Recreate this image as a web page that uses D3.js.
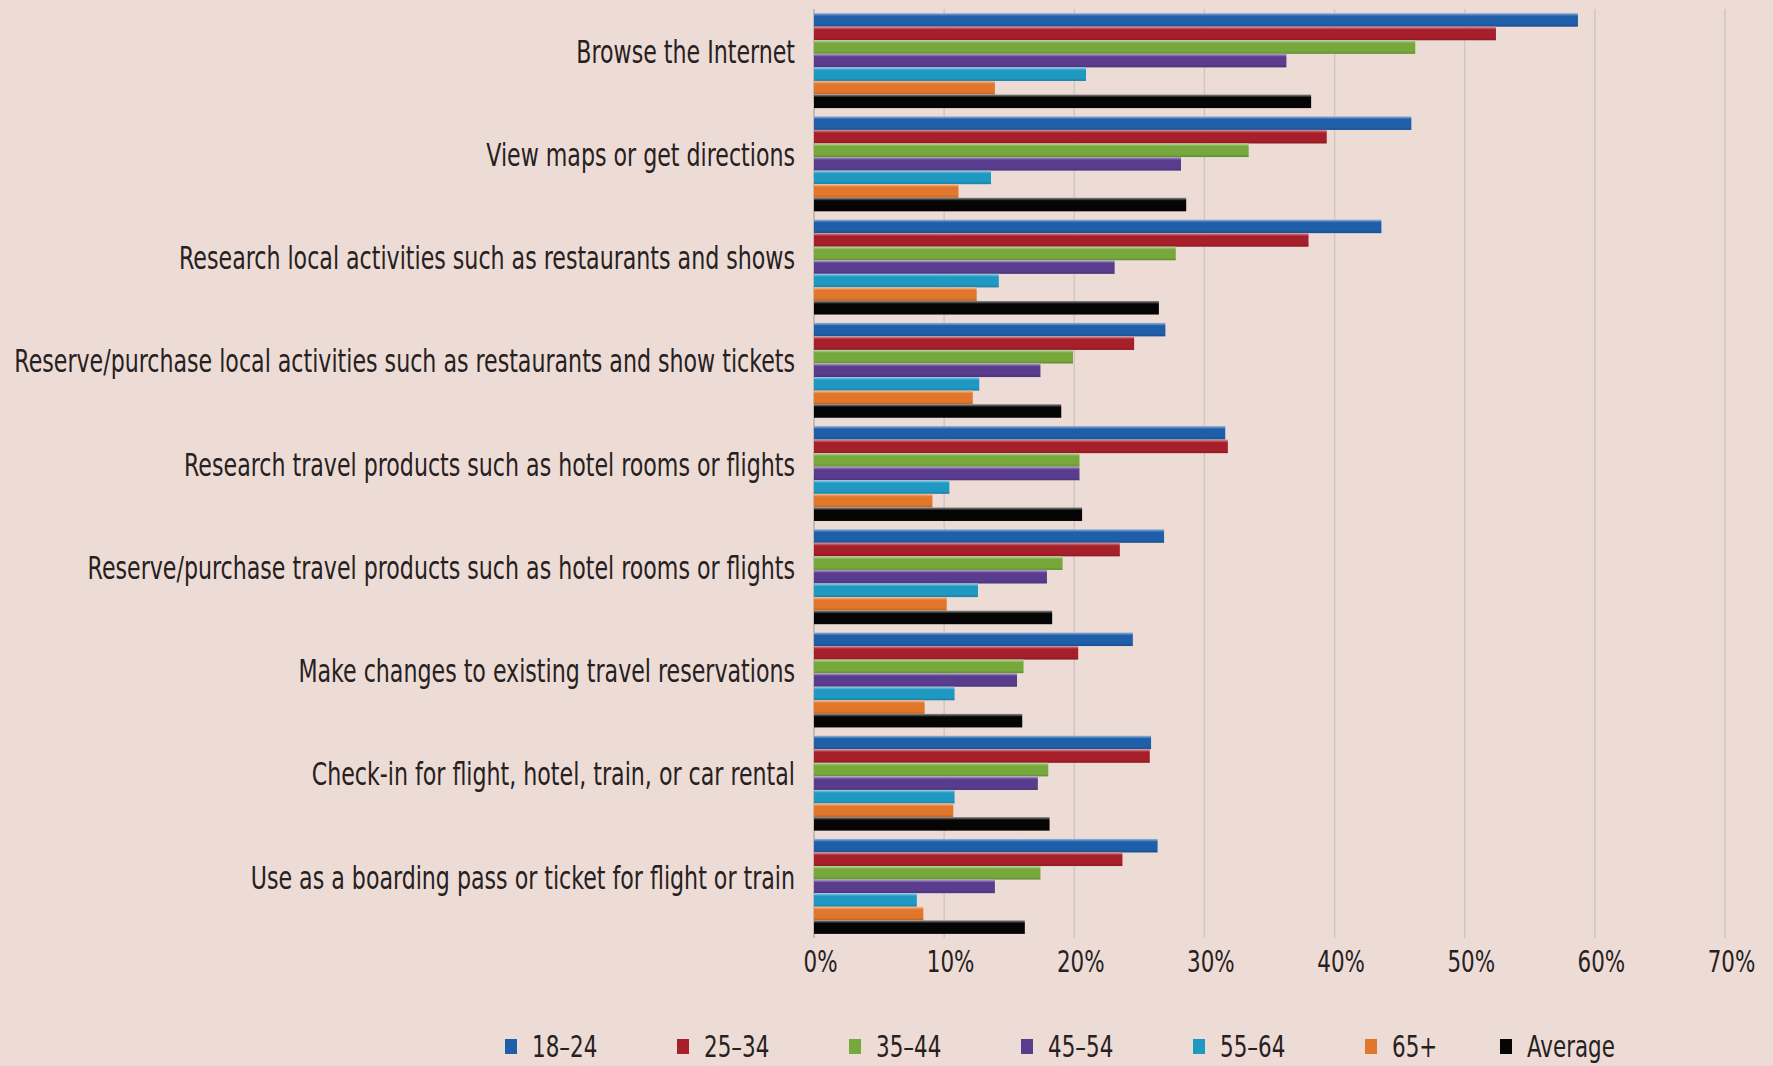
<!DOCTYPE html>
<html>
<head>
<meta charset="utf-8">
<script src="https://cdn.jsdelivr.net/npm/d3@7"></script>
<style>
  html, body { margin: 0; padding: 0; background: #eddcd5; }
  svg text { font-family: "DejaVu Sans Condensed", "DejaVu Sans", sans-serif; font-stretch: condensed; fill: #26211f; }
</style>
</head>
<body>
<svg id="canvas"></svg>
<script>
let categories = [
  "Browse the Internet",
  "View maps or get directions",
  "Research local activities such as restaurants and shows",
  "Reserve/purchase local activities such as restaurants and show tickets",
  "Research travel products such as hotel rooms or flights",
  "Reserve/purchase travel products such as hotel rooms or flights",
  "Make changes to existing travel reservations",
  "Check-in for flight, hotel, train, or car rental",
  "Use as a boarding pass or ticket for flight or train"
]

let seriesNames = ["18–24", "25–34", "35–44", "45–54", "55–64", "65+", "Average"]
let seriesColors = ["#1f5ea9", "#a61f2a", "#76a83b", "#5a3c8e", "#1f98c2", "#e2762a", "#050505"]

// percent values per category, one array per age group
let age18to24 = [58.7, 45.9, 43.6, 27.0, 31.6, 26.9, 24.5, 25.9, 26.4]
let age25to34 = [52.4, 39.4, 38.0, 24.6, 31.8, 23.5, 20.3, 25.8, 23.7]
let age35to44 = [46.2, 33.4, 27.8, 19.9, 20.4, 19.1, 16.1, 18.0, 17.4]
let age45to54 = [36.3, 28.2, 23.1, 17.4, 20.4, 17.9, 15.6, 17.2, 13.9]
let age55to64 = [20.9, 13.6, 14.2, 12.7, 10.4, 12.6, 10.8, 10.8, 7.9]
let age65plus = [13.9, 11.1, 12.5, 12.2, 9.1, 10.2, 8.5, 10.7, 8.4]
let average = [38.2, 28.6, 26.5, 19.0, 20.6, 18.3, 16.0, 18.1, 16.2]

let xTicks = [0, 10, 20, 30, 40, 50, 60, 70]

let seriesValues = [age18to24, age25to34, age35to44, age45to54, age55to64, age65plus, average]

let width = 1773
let height = 1066
let plotLeft = 814
let plotRight = 1725
let plotTop = 9
let plotBottom = 938
let labelRight = 795
let labelLeft = 14

let svg = d3.select("#canvas")
    .attr("width", width)
    .attr("height", height)

svg.append("rect")
    .attr("width", width)
    .attr("height", height)
    .attr("fill", "#eddcd5")

let xScale = d3.scaleLinear()
    .domain([0, 70])
    .range([plotLeft, plotRight])

let yScale = d3.scaleBand()
    .domain(categories)
    .range([plotTop, plotBottom])
    .paddingInner(0.08)
    .paddingOuter(0.04)

let innerScale = d3.scaleBand()
    .domain(seriesNames)
    .range([0, yScale.bandwidth()])

// shaded fills, a light edge on top like the original
let defs = svg.append("defs")
seriesNames.forEach((name, i) => {
    let c = d3.color(seriesColors[i])
    let grad = defs.append("linearGradient")
        .attr("id", "g" + i)
        .attr("x1", 0).attr("y1", 0).attr("x2", 0).attr("y2", 1)
    grad.append("stop").attr("offset", "0%").attr("stop-color", d3.interpolateRgb(c, "#ffffff")(0.55))
    grad.append("stop").attr("offset", "22%").attr("stop-color", c.formatHex())
    grad.append("stop").attr("offset", "80%").attr("stop-color", c.formatHex())
    grad.append("stop").attr("offset", "100%").attr("stop-color", c.darker(0.5).formatHex())
})

// gridlines
svg.append("g")
    .selectAll("line")
    .data(xTicks)
    .enter()
    .append("line")
    .attr("x1", (d) => xScale(d))
    .attr("x2", (d) => xScale(d))
    .attr("y1", plotTop)
    .attr("y2", plotBottom)
    .attr("stroke", (d) => d == 0 ? "#b9aca7" : "#d3c5bf")
    .attr("stroke-width", 1.5)

// bars
let groups = svg.append("g")
    .selectAll("g")
    .data(categories)
    .enter()
    .append("g")
    .attr("transform", (d) => "translate(0," + yScale(d) + ")")

groups.selectAll("rect")
    .data((d, ci) => seriesNames.map((s, si) => ({series: s, idx: si, value: seriesValues[si][ci]})))
    .enter()
    .append("rect")
    .attr("x", xScale(0))
    .attr("y", (d) => innerScale(d.series))
    .attr("width", (d) => xScale(d.value) - xScale(0))
    .attr("height", innerScale.bandwidth())
    .attr("fill", (d) => "url(#g" + d.idx + ")")

// category labels, squeezed so the longest one fits like the condensed original
let labels = svg.append("g")
    .selectAll("text")
    .data(categories)
    .enter()
    .append("text")
    .attr("x", 0)
    .attr("y", 0)
    .attr("dy", "0.35em")
    .attr("text-anchor", "end")
    .attr("font-size", 32)
    .text((d) => d)

let longest = d3.max(labels.nodes(), (n) => n.getComputedTextLength())
let squeeze = Math.min(1, (labelRight - labelLeft) / longest)

labels.attr("transform", (d) => "translate(" + labelRight + "," + (yScale(d) + yScale.bandwidth() / 2 - 9) + ") scale(" + squeeze + ",1)")

// x axis labels
let xAxis = d3.axisBottom(xScale)
    .tickValues(xTicks)
    .tickSize(0)
    .tickPadding(12)
    .tickFormat((d) => d + "%")

let axisG = svg.append("g")
    .attr("transform", "translate(0," + plotBottom + ")")
    .call(xAxis)
axisG.select(".domain").remove()
axisG.attr("font-family", null)
axisG.selectAll(".tick text")
    .attr("font-size", 31)
    .attr("fill", "#26211f")
    .attr("x", 0)
    .attr("transform", "translate(6,0) scale(" + squeeze + ",1)")

// legend
let legendX = [505, 677, 849, 1021, 1193, 1365, 1500]
let legend = svg.append("g")
    .selectAll("g")
    .data(seriesNames)
    .enter()
    .append("g")
    .attr("transform", (d, i) => "translate(" + legendX[i] + ",1046)")

legend.append("rect")
    .attr("x", 0)
    .attr("y", -7)
    .attr("width", 12)
    .attr("height", 15)
    .attr("fill", (d, i) => seriesColors[i])

legend.append("text")
    .attr("x", 0)
    .attr("y", 0)
    .attr("dy", "0.35em")
    .attr("font-size", 31)
    .attr("transform", "translate(27,0) scale(" + squeeze + ",1)")
    .text((d) => d)
</script>
</body>
</html>
